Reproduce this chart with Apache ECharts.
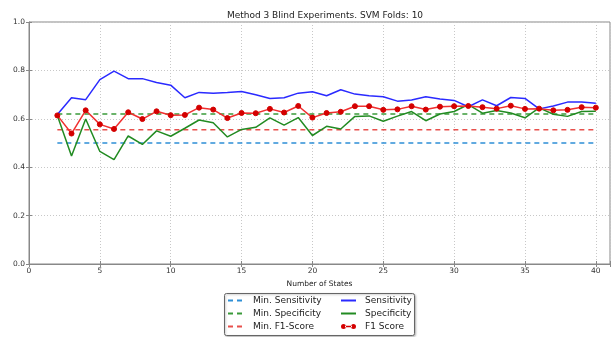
<!DOCTYPE html>
<html>
<head>
<meta charset="utf-8">
<script src="https://cdn.jsdelivr.net/npm/echarts@6/dist/echarts.min.js"></script>
<style>
  html, body { margin: 0; padding: 0; background: #fff; }
  #chart { width: 613px; height: 337px; }
</style>
</head>
<body>
<div id="chart"></div>
<script>
// Number of HMM states tried
const states = [2, 3, 4, 5, 6, 7, 8, 9, 10, 11, 12, 13, 14, 15, 16, 17, 18, 19, 20, 21,
  22, 23, 24, 25, 26, 27, 28, 29, 30, 31, 32, 33, 34, 35, 36, 37, 38, 39, 40];

const sensitivity = [0.618, 0.687, 0.679, 0.762, 0.797, 0.766, 0.766, 0.750, 0.739, 0.687,
  0.709, 0.706, 0.709, 0.713, 0.699, 0.684, 0.687, 0.706, 0.712, 0.695,
  0.720, 0.702, 0.695, 0.691, 0.673, 0.678, 0.691, 0.682, 0.676, 0.650,
  0.678, 0.654, 0.688, 0.684, 0.641, 0.653, 0.669, 0.669, 0.664];

const specificity = [0.614, 0.446, 0.599, 0.465, 0.431, 0.529, 0.494, 0.550, 0.528, 0.561,
  0.595, 0.584, 0.525, 0.556, 0.565, 0.604, 0.574, 0.605, 0.531, 0.569,
  0.558, 0.610, 0.612, 0.590, 0.611, 0.630, 0.592, 0.620, 0.630, 0.659,
  0.623, 0.634, 0.624, 0.604, 0.645, 0.619, 0.610, 0.630, 0.631];

const f1Score = [0.614, 0.539, 0.635, 0.577, 0.558, 0.627, 0.599, 0.631, 0.615, 0.616,
  0.646, 0.638, 0.603, 0.624, 0.623, 0.641, 0.626, 0.653, 0.605, 0.624,
  0.629, 0.652, 0.652, 0.637, 0.639, 0.652, 0.638, 0.650, 0.652, 0.653,
  0.648, 0.642, 0.654, 0.641, 0.642, 0.635, 0.637, 0.648, 0.646];

// Minimum thresholds
const minSensitivity = 0.50;
const minSpecificity = 0.62;
const minF1 = 0.555;

const xTicks = [0, 5, 10, 15, 20, 25, 30, 35, 40];
const yTicks = [0.0, 0.2, 0.4, 0.6, 0.8, 1.0];

const FONT = '"DejaVu Sans", sans-serif';
const pairs = (ys) => states.map((s, i) => [s, ys[i]]);
const flat = (v) => [[states[0], v], [states[states.length - 1], v]];

const chart = echarts.init(document.getElementById('chart'), null, { renderer: 'canvas' });

const dashed = (name, color, v) => ({
  name, type: 'line', data: flat(v), symbol: 'none', silent: true,
  lineStyle: { color, width: 1.5, type: [5, 4] }, itemStyle: { color }, z: 2
});

// legend handle: marker - line - marker
const f1Icon = 'path://M0,4.5a2.5,2.5 0 1,0 5,0a2.5,2.5 0 1,0 -5,0zM10,4.5a2.5,2.5 0 1,0 5,0a2.5,2.5 0 1,0 -5,0zM4,3.8h7v1.4h-7z';
const noMarker = { opacity: 0 };

const option = {
  animation: false,
  backgroundColor: '#fff',
  textStyle: { fontFamily: FONT },
  title: {
    text: 'Method 3 Blind Experiments. SVM Folds: 10',
    left: 320, top: 6, textAlign: 'center',
    textStyle: { fontFamily: FONT, fontSize: 9, fontWeight: 'normal', color: '#222' }
  },
  grid: {
    left: 29, right: 3, top: 22, bottom: 73,
    show: true, borderColor: '#888', borderWidth: 1, backgroundColor: 'transparent'
  },
  xAxis: [{
    type: 'value', min: 0, max: 41, interval: 5,
    name: 'Number of States', nameLocation: 'middle', nameGap: 13,
    nameTextStyle: { fontFamily: FONT, fontSize: 7.5, color: '#222' },
    axisLine: { lineStyle: { color: '#888' } },
    axisTick: { inside: true, length: 3, lineStyle: { color: '#888' } },
    axisLabel: {
      fontFamily: FONT, fontSize: 7.5, color: '#333', margin: 3,
      formatter: (v) => xTicks.includes(v) ? String(v) : ''
    },
    splitLine: { show: true, lineStyle: { color: '#c8c8c8', type: [1, 2], width: 1 } }
  }, {
    type: 'value', min: 0, max: 41, interval: 5, position: 'top',
    axisLine: { show: false },
    axisTick: { inside: true, length: 3, lineStyle: { color: '#888' } },
    axisLabel: { show: false }, splitLine: { show: false }
  }],
  yAxis: [{
    type: 'value', min: 0, max: 1, interval: 0.2,
    axisLine: { show: true, lineStyle: { color: '#888' } },
    axisTick: { show: true, inside: true, length: 3, lineStyle: { color: '#888' } },
    axisLabel: {
      fontFamily: FONT, fontSize: 7.5, color: '#333', margin: 4,
      formatter: (v) => yTicks.some(t => Math.abs(t - v) < 1e-9) ? v.toFixed(1) : ''
    },
    splitLine: { show: true, lineStyle: { color: '#c8c8c8', type: [1, 2], width: 1 } }
  }, {
    type: 'value', min: 0, max: 1, interval: 0.2, position: 'right',
    axisLine: { show: false },
    axisTick: { show: true, inside: true, length: 3, lineStyle: { color: '#888' } },
    axisLabel: { show: false }, splitLine: { show: false }
  }],
  legend: [{
    orient: 'vertical', left: 227, top: 296, padding: 0,
    itemWidth: 15, itemHeight: 9, itemGap: 4,
    itemStyle: noMarker,
    data: ['Min. Sensitivity', 'Min. Specificity', 'Min. F1-Score'],
    textStyle: { fontFamily: FONT, fontSize: 9, color: '#222', padding: [0, 0, 0, 5] }
  }, {
    orient: 'vertical', left: 340, top: 296, padding: 0,
    itemWidth: 15, itemHeight: 9, itemGap: 4,
    data: [
      { name: 'Sensitivity', itemStyle: noMarker },
      { name: 'Specificity', itemStyle: noMarker },
      { name: 'F1 Score', icon: f1Icon }
    ],
    textStyle: { fontFamily: FONT, fontSize: 9, color: '#222', padding: [0, 0, 0, 4] }
  }],
  graphic: [{
    type: 'rect', left: 224, top: 293, z: -1,
    shape: { width: 190, height: 42, r: 2 },
    style: { fill: '#fff', stroke: '#666', lineWidth: 1,
      shadowBlur: 2, shadowColor: 'rgba(0,0,0,0.25)', shadowOffsetX: 1, shadowOffsetY: 1 }
  }],
  series: [
    dashed('Min. Sensitivity', '#2e8fd6', minSensitivity),
    dashed('Min. Specificity', '#3a9a3a', minSpecificity),
    dashed('Min. F1-Score', '#e8504c', minF1),
    {
      name: 'Sensitivity', type: 'line', data: pairs(sensitivity), symbol: 'none',
      lineStyle: { color: '#2a2aff', width: 1.5 }, itemStyle: { color: '#2a2aff' }, z: 3
    },
    {
      name: 'Specificity', type: 'line', data: pairs(specificity), symbol: 'none',
      lineStyle: { color: '#228b22', width: 1.5 }, itemStyle: { color: '#228b22' }, z: 4
    },
    {
      name: 'F1 Score', type: 'line', data: pairs(f1Score),
      symbol: 'circle', symbolSize: 5, showAllSymbol: true,
      lineStyle: { color: '#f03030', width: 1.5 },
      itemStyle: { color: '#d40000', borderColor: '#d40000' }, z: 5
    }
  ]
};

chart.setOption(option);
</script>
</body>
</html>
